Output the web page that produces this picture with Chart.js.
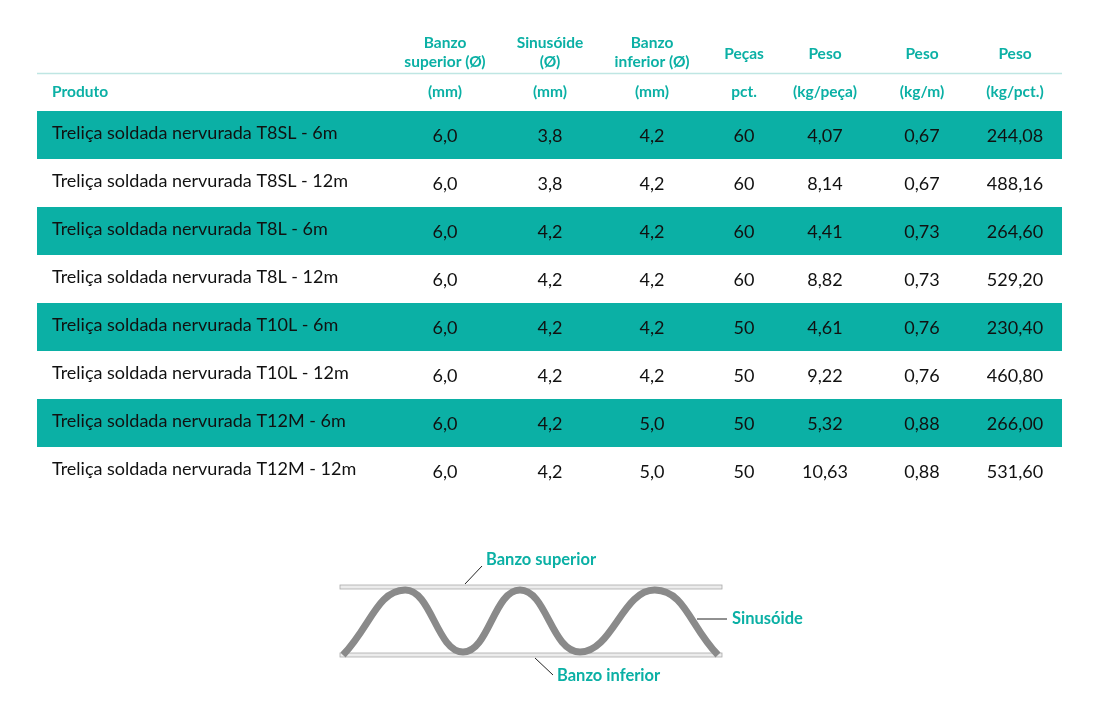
<!DOCTYPE html>
<html>
<head>
<meta charset="utf-8">
<script src="https://cdn.jsdelivr.net/npm/chart.js@4"></script>
<style>
  body { margin: 0; background: #fff; }
  #wrap { width: 1100px; height: 726px; }
</style>
</head>
<body>
<div id="wrap"><canvas id="c"></canvas></div>
<script>
const produtos = [
  "Treliça soldada nervurada T8SL - 6m", "Treliça soldada nervurada T8SL - 12m",
  "Treliça soldada nervurada T8L - 6m", "Treliça soldada nervurada T8L - 12m",
  "Treliça soldada nervurada T10L - 6m", "Treliça soldada nervurada T10L - 12m",
  "Treliça soldada nervurada T12M - 6m", "Treliça soldada nervurada T12M - 12m"
];
const banzoSuperior = ["6,0", "6,0", "6,0", "6,0", "6,0", "6,0", "6,0", "6,0"];
const sinusoide = ["3,8", "3,8", "4,2", "4,2", "4,2", "4,2", "4,2", "4,2"];
const banzoInferior = ["4,2", "4,2", "4,2", "4,2", "4,2", "4,2", "5,0", "5,0"];
const pecas = ["60", "60", "60", "60", "50", "50", "50", "50"];
const pesoPeca = ["4,07", "8,14", "4,41", "8,82", "4,61", "9,22", "5,32", "10,63"];
const pesoMetro = ["0,67", "0,67", "0,73", "0,73", "0,76", "0,76", "0,88", "0,88"];
const pesoPacote = ["244,08", "488,16", "264,60", "529,20", "230,40", "460,80", "266,00", "531,60"];
const headTop = ["Banzo\nsuperior (Ø)", "Sinusóide\n(Ø)", "Banzo\ninferior (Ø)", "Peças", "Peso", "Peso", "Peso"];
const headBottom = ["Produto", "(mm)", "(mm)", "(mm)", "pct.", "(kg/peça)", "(kg/m)", "(kg/pct.)"];

// diagram: sinusoid vertices (peaks/troughs)
const waveX = [343, 405, 463, 520, 580, 655, 718];
const waveY = [655, 590, 652, 590, 652, 590, 655];

const TEAL = "#0bb0a5";
const colX = [52, 445, 550, 652, 744, 825, 922, 1015];
const rowY0 = 111, rowH = 48;

const tablePlugin = {
  id: "table",
  beforeDatasetsDraw(chart) {
    const ctx = chart.ctx, sx = chart.scales.x, sy = chart.scales.y;
    ctx.save();
    ctx.fillStyle = TEAL;
    for (let i = 0; i < produtos.length; i += 2) {
      const top = sy.getPixelForValue(rowY0 + i * rowH), bot = sy.getPixelForValue(rowY0 + (i + 1) * rowH);
      ctx.fillRect(sx.getPixelForValue(37), top, sx.getPixelForValue(1062) - sx.getPixelForValue(37), bot - top);
    }
    ctx.strokeStyle = "#bfe6e3"; ctx.lineWidth = 1.5;
    ctx.beginPath(); ctx.moveTo(37, 73.5); ctx.lineTo(1062, 73.5); ctx.stroke();
    ctx.fillStyle = TEAL; ctx.font = "bold 15.5px Lato"; ctx.textBaseline = "middle";
    headTop.forEach((t, i) => {
      const lines = t.split("\n");
      ctx.textAlign = "center";
      lines.forEach((l, j) => {
        const y = lines.length === 2 ? 43 + j * 19 : 54;
        ctx.fillText(l, colX[i + 1], y);
      });
    });
    headBottom.forEach((t, i) => {
      ctx.textAlign = i === 0 ? "left" : "center";
      ctx.fillText(t, colX[i], 92);
    });
    const cols = [produtos, banzoSuperior, sinusoide, banzoInferior, pecas, pesoPeca, pesoMetro, pesoPacote];
    ctx.font = "18px Lato";
    ctx.fillStyle = "#111";
    produtos.forEach((p, r) => {
      const y = sy.getPixelForValue(rowY0 + r * rowH + rowH / 2);
      cols.forEach((c, i) => {
        ctx.textAlign = i === 0 ? "left" : "center";
        ctx.fillText(c[r], colX[i], i === 0 ? y - 2 : y + 1);
      });
    });
    [[587, 340, 722], [655, 340, 722]].forEach(([y, a, b]) => {
      ctx.fillStyle = "#ececec"; ctx.fillRect(a, y - 2, b - a, 4);
      ctx.strokeStyle = "#aaa"; ctx.lineWidth = 0.8; ctx.strokeRect(a, y - 2, b - a, 4);
    });
    ctx.strokeStyle = "#222"; ctx.lineWidth = 1;
    ctx.beginPath();
    ctx.moveTo(465, 584); ctx.lineTo(482, 566);
    ctx.moveTo(697, 619); ctx.lineTo(727, 619);
    ctx.moveTo(535, 658); ctx.lineTo(553, 675);
    ctx.stroke();
    ctx.fillStyle = TEAL; ctx.font = "bold 16.5px Lato"; ctx.textAlign = "left";
    ctx.fillText("Banzo superior", 486, 560);
    ctx.fillText("Sinusóide", 732, 619);
    ctx.fillText("Banzo inferior", 557, 676);
    ctx.restore();
  }
};

new Chart(document.getElementById("c"), {
  type: "line",
  data: {
    datasets: [
      { data: waveX.map((x, i) => ({ x, y: waveY[i] })), borderColor: "#8a8a8a", borderWidth: 7, tension: 0.45, pointRadius: 0 },
      { data: waveX.map((x, i) => ({ x, y: waveY[i] })), borderColor: "#d8d8d8", borderWidth: 4, borderDash: [2, 1.5], tension: 0.45, pointRadius: 0 }
    ]
  },
  options: {
    responsive: true, maintainAspectRatio: false, animation: false,
    layout: { padding: 0 },
    plugins: { legend: { display: false }, tooltip: { enabled: false } },
    scales: {
      x: { type: "linear", min: 0, max: 1100, display: false },
      y: { type: "linear", min: 0, max: 726, reverse: true, display: false }
    }
  },
  plugins: [tablePlugin]
});
</script>
</body>
</html>
